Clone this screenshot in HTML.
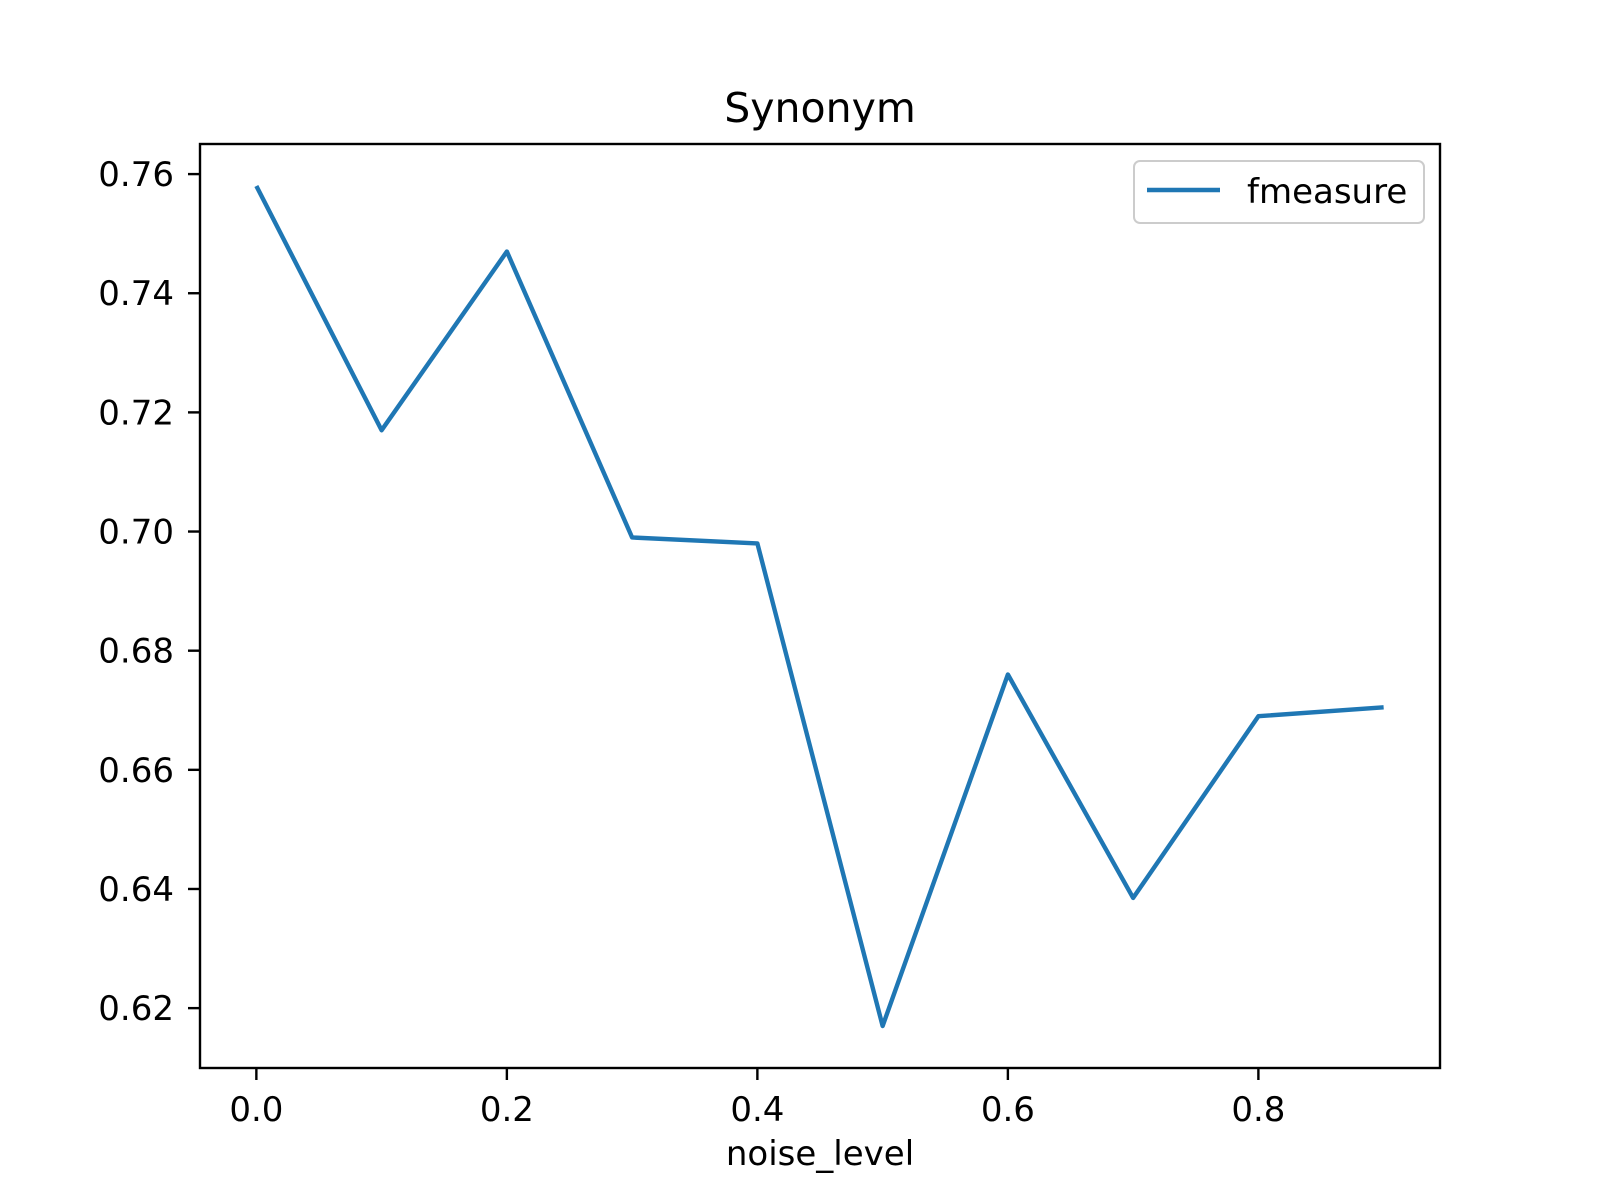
<!DOCTYPE html>
<html><head><meta charset="utf-8"><style>
html,body{margin:0;padding:0;background:#fff;}
svg{display:block;font-family:"DejaVu Sans","Liberation Sans",sans-serif;}
</style></head><body>
<svg id="chart" width="1600" height="1200" viewBox="0 0 1600 1200">
<rect x="0" y="0" width="1600" height="1200" fill="#fff"/>
<text x="820" y="122" font-size="41" text-anchor="middle">Synonym</text>
<g id="ticks"></g>
<polyline id="line" fill="none" stroke="#1f77b4" stroke-width="4.4" stroke-linejoin="round"/>
<rect x="200" y="144" width="1240" height="924" fill="none" stroke="#000" stroke-width="2.4"/>
<g>
<rect x="1134" y="161" width="290" height="62" rx="6" fill="#fff" fill-opacity="0.8" stroke="#ccc" stroke-width="2"/>
<line x1="1147" y1="190" x2="1220" y2="190" stroke="#1f77b4" stroke-width="4.4"/>
<text x="1247" y="203" font-size="34">fmeasure</text>
</g>
<text x="820" y="1165" font-size="34" text-anchor="middle">noise_level</text>
</svg>
<script>
const xValues=[0,0.1,0.2,0.3,0.4,0.5,0.6,0.7,0.8,0.9];
const yValues=[0.758,0.717,0.747,0.699,0.698,0.617,0.676,0.6385,0.669,0.6705];
const xTicks=[0,0.2,0.4,0.6,0.8];
const xTickLabels=["0.0","0.2","0.4","0.6","0.8"];
const yTicks=[0.62,0.64,0.66,0.68,0.70,0.72,0.74,0.76];
const yTickLabels=["0.62","0.64","0.66","0.68","0.70","0.72","0.74","0.76"];
const L=200,R=1440,T=144,B=1068;
const xmin=Math.min(...xValues),xmax=Math.max(...xValues),xm=(xmax-xmin)*0.05;
const ymin=Math.min(...yValues),ymax=Math.max(...yValues),ym=(ymax-ymin)*0.05;
const sx=v=>L+(v-(xmin-xm))/((xmax+xm)-(xmin-xm))*(R-L);
const sy=v=>B-(v-(ymin-ym))/((ymax+ym)-(ymin-ym))*(B-T);
const NS="http://www.w3.org/2000/svg";
const g=document.getElementById('ticks');
xTicks.forEach((t,i)=>{
 const l=document.createElementNS(NS,'line');
 l.setAttribute('x1',sx(t));l.setAttribute('x2',sx(t));l.setAttribute('y1',B);l.setAttribute('y2',B+12);
 l.setAttribute('stroke','#000');l.setAttribute('stroke-width','2.4');
 
 
 g.appendChild(l);
 const tx=document.createElementNS(NS,'text');
 tx.setAttribute('x',sx(t));tx.setAttribute('y',B+53);tx.setAttribute('font-size','34');tx.setAttribute('text-anchor','middle');
 tx.textContent=xTickLabels[i];
 
 
 g.appendChild(tx);
});
yTicks.forEach((t,i)=>{
 const l=document.createElementNS(NS,'line');
 l.setAttribute('x1',L-12);l.setAttribute('x2',L);l.setAttribute('y1',sy(t));l.setAttribute('y2',sy(t));
 l.setAttribute('stroke','#000');l.setAttribute('stroke-width','2.4');
 
 
 g.appendChild(l);
 const tx=document.createElementNS(NS,'text');
 tx.setAttribute('x',L-26);tx.setAttribute('y',sy(t)+12);tx.setAttribute('font-size','34');tx.setAttribute('text-anchor','end');
 tx.textContent=yTickLabels[i];
 
 
 g.appendChild(tx);
});
document.getElementById('line').setAttribute('points',xValues.map((x,i)=>sx(x)+','+sy(yValues[i])).join(' '));
</script>
</body></html>
